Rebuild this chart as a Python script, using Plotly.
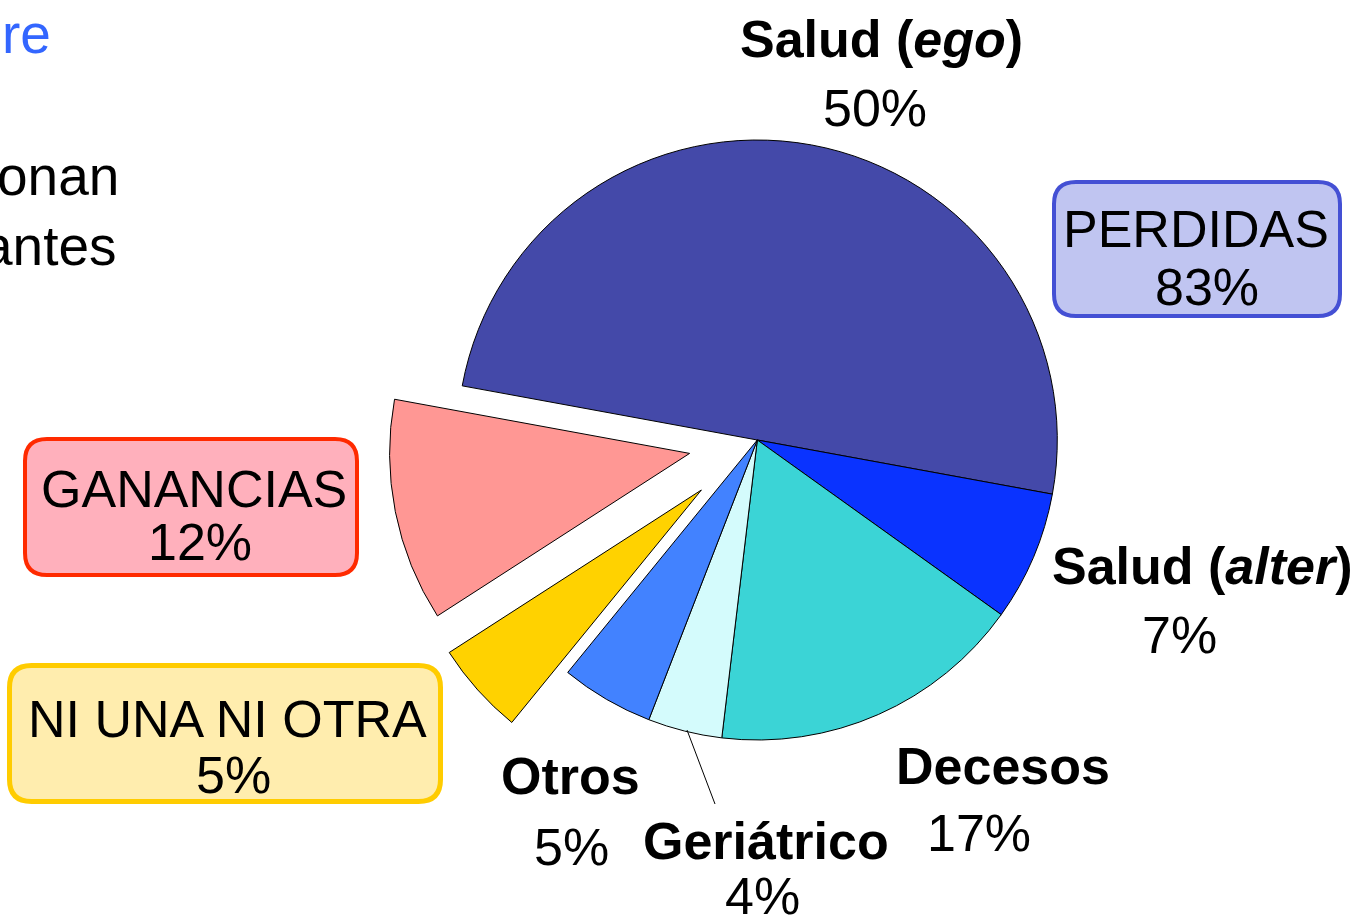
import plotly.graph_objects as go

# ---- data ----
categories = ["Salud (ego)", "Salud (alter)", "Decesos", "Geriátrico", "Otros",
              "NI UNA NI OTRA", "GANANCIAS"]
label_html = ["Salud (<i>ego</i>)", "Salud (<i>alter</i>)", "Decesos", "Geriátrico", "Otros"]
values = [50, 7, 17, 4, 5, 5, 12]
group_names = ["PERDIDAS", "GANANCIAS", "NI UNA NI OTRA"]
group_members = [[0, 1, 2, 3, 4], [6], [5]]
fragments = ["re", "onan", "antes"]

# ---- style ----
W, H = 1361, 917
colors = ["#4449A9", "#0A33FF", "#3BD4D6", "#D4FBFC", "#4282FF", "#FFD200", "#FF9794"]
pulls = [0, 0, 0, 0, 0, 0.25, 0.23]
FONT = "Liberation Sans, Arial, sans-serif"
FS = 52
CX, CY, R = 757.3, 440.0, 300.0


def px(x):
    return x / W


def py(y):
    return 1 - y / H


maxpull = max(pulls)
half = R * (1 + maxpull)

fig = go.Figure(go.Pie(
    labels=categories, values=values, sort=False, direction="clockwise",
    rotation=-79.6, pull=pulls, textinfo="none", hoverinfo="label+percent",
    marker=dict(colors=colors, line=dict(color="#000000", width=1)),
    domain=dict(x=[px(CX - half), px(CX + half)], y=[py(CY + half), py(CY - half)]),
    showlegend=False,
))

annotations = []


def add_text(text, x, y, size=FS, color="#000000", xanchor="center"):
    annotations.append(dict(text=text, x=px(x), y=py(y), xref="paper", yref="paper",
                            xanchor=xanchor, yanchor="middle", showarrow=False,
                            font=dict(family=FONT, size=size, color=color)))


# slice labels: (name center x, name y, pct center x, pct y)
label_pos = [(881, 38.5, 875, 108), (1202, 566, 1179, 635), (1003, 766, 979, 833),
             (766, 841, 762, 896), (570, 776, 571, 847)]
for i, (nx, ny, pxx, pyy) in enumerate(label_pos):
    add_text("<b>" + label_html[i] + "</b>", nx, ny)
    add_text(f"{values[i]}%", pxx, pyy)

# group boxes
shapes = []


def rounded_box(x0, y0, x1, y1, rad, fill, line, lw):
    h = lw / 2
    x0, y0, x1, y1 = x0 + h, y0 + h, x1 - h, y1 - h
    pts = [
        f"M {px(x0 + rad)},{py(y0)}",
        f"L {px(x1 - rad)},{py(y0)}",
        f"Q {px(x1)},{py(y0)} {px(x1)},{py(y0 + rad)}",
        f"L {px(x1)},{py(y1 - rad)}",
        f"Q {px(x1)},{py(y1)} {px(x1 - rad)},{py(y1)}",
        f"L {px(x0 + rad)},{py(y1)}",
        f"Q {px(x0)},{py(y1)} {px(x0)},{py(y1 - rad)}",
        f"L {px(x0)},{py(y0 + rad)}",
        f"Q {px(x0)},{py(y0)} {px(x0 + rad)},{py(y0)} Z",
    ]
    shapes.append(dict(type="path", path=" ".join(pts), xref="paper", yref="paper",
                       fillcolor=fill, line=dict(color=line, width=lw), layer="below"))


boxes = [
    dict(rect=(1052, 180, 1342, 318), fill="#C0C5F1", line="#4450D4", lw=4,
         name=(1196, 229), pct=(1207, 287)),
    dict(rect=(23, 437, 359, 577), fill="#FFB0BC", line="#FF2A00", lw=4,
         name=(194, 489), pct=(200, 542)),
    dict(rect=(7, 663, 443, 804), fill="#FFEDAE", line="#FFCC00", lw=5,
         name=(227, 719), pct=(233, 775)),
]
for gname, members, b in zip(group_names, group_members, boxes):
    rounded_box(*b["rect"], 22, b["fill"], b["line"], b["lw"])
    total = sum(values[m] for m in members)
    add_text(gname, *b["name"])
    add_text(f"{total}%", *b["pct"])

# leader line for Geriátrico
shapes.append(dict(type="line", xref="paper", yref="paper",
                   x0=px(687), y0=py(730), x1=px(715), y1=py(804),
                   line=dict(color="#000000", width=1)))

# cut-off slide text fragments at top-left
frag_pos = [(53, 34.5, "#3366FF"), (121, 176.5, "#000000"), (119, 246.5, "#000000")]
for t, (x, y, c) in zip(fragments, frag_pos):
    add_text(t, x, y, size=55, color=c, xanchor="right")

fig.update_layout(
    width=W, height=H, margin=dict(l=0, r=0, t=0, b=0),
    paper_bgcolor="#FFFFFF", plot_bgcolor="#FFFFFF",
    annotations=annotations, shapes=shapes, showlegend=False,
)

fig.write_html("out.html", config={"displayModeBar": False},
               post_script="document.body.style.margin='0';document.body.style.padding='0';")
